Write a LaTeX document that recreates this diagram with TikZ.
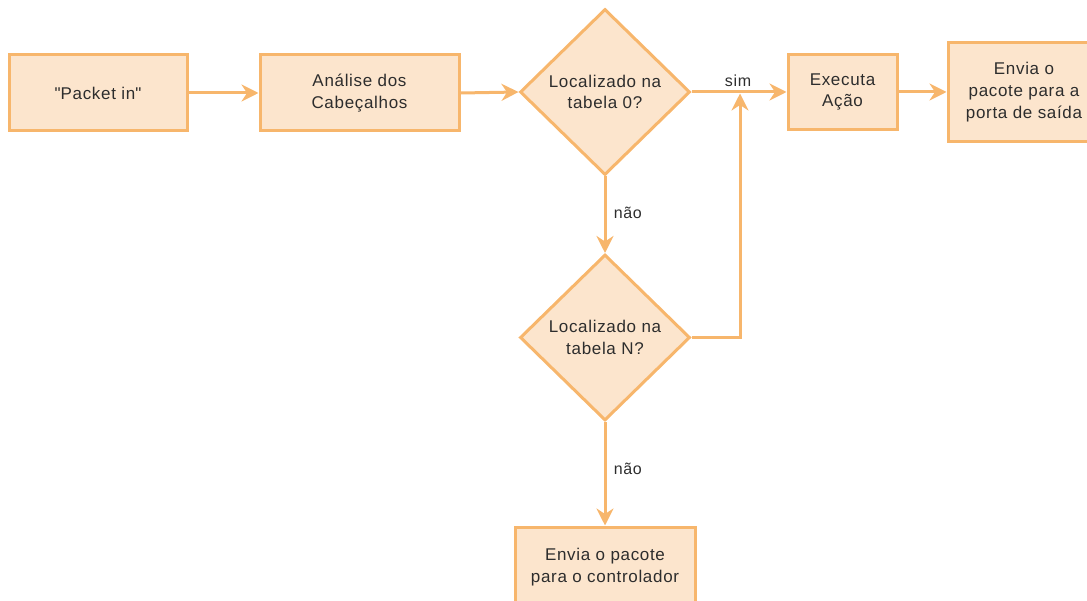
\documentclass[tikz,border=0pt]{standalone}
\usepackage{fontspec}
\setmainfont{Liberation Sans}[LetterSpace=4]
\usetikzlibrary{shapes.geometric,arrows.meta}
\definecolor{edge}{RGB}{247,182,108}
\definecolor{boxfill}{RGB}{252,229,205}
\definecolor{ink}{RGB}{45,45,45}
\begin{document}
\begin{tikzpicture}[x=1pt,y=-1pt,
  every node/.style={text=ink,font=\fontsize{17}{21.7}\selectfont},
  procbox/.style={draw=edge,fill=boxfill,line width=3pt,rectangle,align=center,inner sep=0pt},
  decision/.style={draw=edge,fill=boxfill,line width=3pt,diamond,align=center,inner sep=0pt,
    minimum width=170pt,minimum height=166pt},
  flow/.style={draw=edge,line width=3pt,-{Stealth[length=17pt,width=17pt,inset=5.5pt]}},
  tag/.style={font=\fontsize{16}{20}\selectfont}]
\useasboundingbox (0,0) rectangle (1087,601);
\begin{scope}
\clip (0,0) rectangle (1087,601);
% process boxes
\node[procbox,minimum width=178pt,minimum height=76pt] (pin) at (98,93) {\textquotedbl Packet in\textquotedbl};
\node[procbox,minimum width=199pt,minimum height=76pt] (ana) at (359.5,93) {Análise dos\\Cabeçalhos};
\node[decision] (d1) at (605,92) {Localizado na\\tabela 0?};
\node[procbox,minimum width=109pt,minimum height=75pt] (exe) at (842.5,92) {Executa\\Ação};
\node[procbox,minimum width=152pt,minimum height=99pt] (env) at (1024,92) {Envia o\\pacote para a\\porta de saída};
\node[decision] (d2) at (605,337.5) {Localizado na\\tabela N?};
\node[procbox,minimum width=180pt,minimum height=80pt] (ctl) at (605,567) {Envia o pacote\\para o controlador};
% connectors
\coordinate (j) at (740,92);
\draw[flow] (pin.east) -- (ana.west);
\draw[flow] (ana.east) -- (d1.west);
\draw[flow] (d1.east) -- node[tag,above=1pt,pos=0.49] (sim) {sim} (exe.west);
\draw[flow] (exe.east) -- (env.west);
\draw[flow] (d1.south) -- node[tag,right=4pt,pos=0.47] (nao1) {não} (d2.north);
\draw[flow,shorten >=1.5pt] (d2.east) -| (j);
\draw[flow] (d2.south) -- node[tag,right=4pt,pos=0.45] (nao2) {não} (ctl.north);
\end{scope}
\end{tikzpicture}
\end{document}
